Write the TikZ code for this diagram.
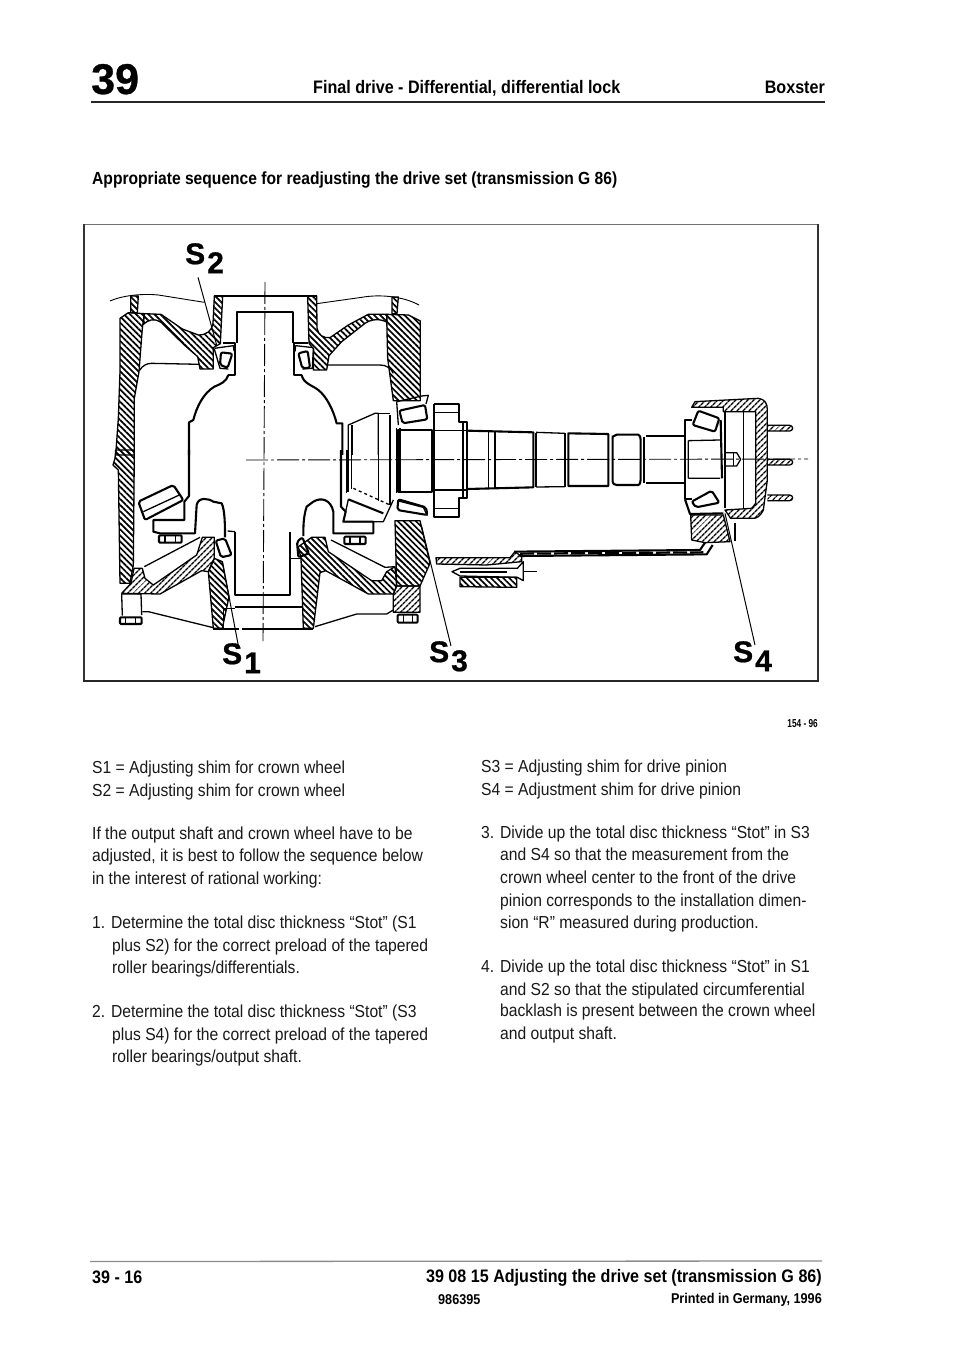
\documentclass[tikz,border=0pt]{standalone}
\usepackage{fontspec}
\setmainfont{Liberation Sans}
\newfontfamily\bodyf[FakeStretch=0.90]{Liberation Sans}
\newfontfamily\headf[FakeStretch=0.89,BoldFont={Liberation Sans Bold}]{Liberation Sans}
\newfontfamily\tinyf[FakeStretch=0.72,BoldFont={Liberation Sans Bold}]{Liberation Sans}
\newfontfamily\labf[FakeBold=0.7]{Liberation Sans Bold}
\usetikzlibrary{patterns.meta}
\tikzset{
  bodytxt/.style={anchor=base west,inner sep=0pt,font=\bodyf\fontsize{17.4}{20}\selectfont,text=black!90},
  headtxt/.style={anchor=base west,inner sep=0pt,font=\headf\bfseries\fontsize{18.1}{20}\selectfont},
  titletxt/.style={anchor=base west,inner sep=0pt,font=\headf\bfseries\fontsize{17.55}{20}\selectfont},
  foottxt/.style={anchor=base east,inner sep=0pt,font=\headf\bfseries\fontsize{18.1}{20}\selectfont},
  smalltxt/.style={anchor=base east,inner sep=0pt,font=\headf\bfseries\fontsize{14.2}{16}\selectfont},
  tinytxt/.style={anchor=base east,inner sep=0pt,font=\tinyf\bfseries\fontsize{11.5}{14}\selectfont},
  shimlab/.style={anchor=north west,inner sep=0pt,font=\labf\fontsize{30}{31}\selectfont},
  ln/.style={line width=1.3pt,line join=round},
  thk/.style={line width=2.1pt,line join=round},
  thn/.style={line width=.9pt,line join=round},
  hatcha/.style={draw,line width=1.3pt,line join=round,pattern={Lines[angle=-45,distance=4.3pt,line width=1.7pt]},pattern color=black},
  hatchb/.style={draw,line width=1.3pt,line join=round,pattern={Lines[angle=45,distance=4pt,line width=1.4pt]},pattern color=black},
  axis/.style={line width=.9pt,dash pattern=on 22pt off 3pt on 3pt off 3pt},
  leader/.style={line width=1pt},
  zoneA/.style={shift={(85,225)},x=.33333pt,y=-.33333pt},
  zoneB/.style={shift={(85,450)},x=.33333pt,y=-.33333pt},
  zoneC/.style={shift={(390,370)},x=.33333pt,y=-.33333pt}
}
\newcommand{\shimlabel}[1]{S\kern2pt\raisebox{-9pt}{#1}}
\begin{document}
\begin{tikzpicture}[x=1pt,y=-1pt]
\useasboundingbox (0,0) rectangle (960,1364);
\fill[white] (0,0) rectangle (960,1364);

% ----- header -----
\node[anchor=base west,inner sep=0pt,font=\labf\fontsize{43}{44}\selectfont] (chap) at (91,94) {39};
\node[headtxt] (ttl) at (313,94) {Final drive - Differential, differential lock};
\node[foottxt] (mdl) at (825,94) {Boxster};
\draw[line width=1.2pt,black!85] (91,102) -- (825,102);
\node[titletxt] (hd) at (92,185) {Appropriate sequence for readjusting the drive set (transmission G 86)};

% ----- figure frame -----
\draw[line width=.8pt,black!55] (84,224) -- (818,224);
\draw[line width=1.4pt,black!80] (84,224) -- (84,681);
\draw[line width=1.4pt,black!80] (818,224) -- (818,681);
\draw[line width=1.8pt,black!85] (83,681) -- (819,681);

% ----- upper part of the differential -----
\begin{scope}[zoneA]
  \draw[thn] (75,228) .. controls (110,212) and (170,205) .. (220,210) -- (358,232);
  \draw[thn] (695,236) -- (830,217) .. controls (880,208) and (950,212) .. (1002,240);
  % studs
  \draw[hatcha] (137,213) -- (160,213) -- (157,263) -- (137,263) -- cycle;
  \draw[hatcha] (921,216) -- (940,216) -- (936,266) -- (921,266) -- cycle;
  % left wall
  \draw[hatcha] (105,280) -- (130,263) -- (178,266) -- (172,310) -- (162,440) -- (148,520) -- (148,690) -- (92,690) -- (100,580) -- (105,440) -- cycle;
  % right wall
  \draw[hatcha] (905,268) -- (970,270) -- (1006,288) -- (1006,527) -- (925,527) -- (908,400) -- (906,320) -- cycle;
  % left web and hub
  \draw[hatcha] (178,266) -- (228,268) -- (292,312) -- (340,330) .. controls (365,330) and (380,318) .. (384,295) -- (388,213) -- (413,213) -- (406,356) -- (385,368) -- (385,432) -- (345,432) -- (338,395) -- (300,362) -- (228,292) .. controls (205,278) and (190,285) .. (175,298) -- cycle;
  % right web and hub
  \draw[hatcha] (668,213) -- (695,213) -- (696,310) .. controls (700,330) and (715,340) .. (735,338) -- (790,300) -- (850,268) -- (905,268) -- (906,292) .. controls (885,280) and (860,282) .. (840,295) -- (770,350) -- (732,392) -- (725,435) -- (685,435) -- (686,372) -- (672,355) -- cycle;
  % case ribs
  \draw[ln] (345,418) -- (200,415) .. controls (185,415) and (172,422) .. (164,436);
  \draw[ln] (728,420) -- (885,420) .. controls (905,420) and (918,430) .. (925,445);
  % centre carrier
  \draw[thk] (388,212) -- (695,212);
  \draw[thk] (455,355) -- (455,262) -- (625,262) -- (625,355);
  \draw[thk] (413,355) -- (450,355) -- (450,450) -- (430,450);
  \draw[thk] (670,355) -- (628,355) -- (628,450) -- (650,450);
  \draw[thk] (430,450) .. controls (425,470) and (405,478) .. (388,485) .. controls (355,505) and (335,545) .. (325,585) -- (312,592) -- (312,690);
  \draw[thk] (650,450) .. controls (655,475) and (680,480) .. (700,495) .. controls (725,515) and (745,555) .. (755,595) -- (772,595) -- (772,690);
  % side bearings
  \draw[thk,rounded corners=2pt] (408,382) -- (442,386) -- (428,428) -- (405,420) -- cycle;
  \draw[ln] (388,370) -- (445,362) -- (447,378);
  \draw[ln] (388,372) -- (405,430) -- (430,432);
  \draw[thk,rounded corners=2pt] (640,385) -- (668,378) -- (675,428) -- (652,430) -- cycle;
  \draw[ln] (685,368) -- (632,362) -- (630,380);
  \draw[ln] (685,372) -- (682,430) -- (652,432);
  % ring gear top
  \draw[ln] (790,690) -- (790,600) -- (870,565) -- (880,565) -- (880,690);
  \draw[thk] (800,600) -- (800,690);
  \draw[ln] (915,570) -- (915,690);
  \draw[ln] (870,565) -- (915,565);
  \draw[ln] (935,530) -- (940,600);
  \draw[ln] (935,610) -- (935,690);
  \draw[ln] (945,610) -- (945,690);
\end{scope}

% ----- lower part of the differential -----
\begin{scope}[zoneB]
  % left wall continued
  \draw[hatcha] (92,0) -- (148,0) -- (145,345) -- (135,400) -- (105,400) -- (100,60) -- (84,45) -- (90,25) -- cycle;
  % lower case left
  \draw[hatchb] (110,430) -- (138,400) -- (147,355) -- (172,355) -- (180,385) -- (205,405) -- (335,315) -- (352,262) -- (388,262) -- (388,325) -- (370,365) -- (350,362) -- (225,432) -- cycle;
  \draw[hatcha] (370,365) -- (388,325) -- (412,335) -- (432,440) -- (412,535) -- (385,535) -- cycle;
  \draw[ln] (178,350) -- (345,262);
  % lower case right
  \draw[hatcha] (648,325) -- (640,290) -- (680,262) -- (720,262) -- (730,305) -- (860,392) -- (890,392) -- (905,365) -- (930,350) -- (935,408) -- (925,432) -- (850,432) -- (722,362) -- (705,368) -- (685,535) -- (655,535) -- cycle;
  \draw[ln] (738,270) -- (900,352) -- (930,350);
  % right wall continued (lower)
  \draw[hatcha] (930,212) -- (1005,212) -- (1035,340) -- (1005,408) -- (935,408) -- cycle;
  \draw[hatchb] (935,408) -- (1005,408) -- (1005,487) -- (925,487) -- (925,432) -- cycle;
  % feet and bolts
  \draw[ln] (110,432) -- (168,432) -- (170,495);
  \draw[ln] (110,432) -- (112,497);
  \draw[thk,rounded corners=1pt] (105,502) rectangle (170,522);
  \draw[ln] (122,502) -- (122,522) (152,502) -- (152,522);
  \draw[thk,rounded corners=1pt] (938,494) rectangle (998,518);
  \draw[ln] (955,494) -- (955,518) (982,494) -- (982,518);
  % bottom profile
  \draw[ln] (172,485) -- (190,485) -- (385,533);
  \draw[ln] (690,530) -- (815,492) -- (905,492) -- (925,480);
  \draw[thk] (385,537) -- (462,537) (472,537) -- (685,537);
  \draw[thk] (450,470) -- (650,470);
  \draw[ln] (415,475) -- (450,475);
  \draw[ln] (415,475) -- (415,535);
  \draw[thk] (450,245) -- (450,435) -- (615,435) -- (615,245);
  \draw[ln] (428,243) -- (450,245);
  \draw[ln] (618,325) -- (648,325);
  % domes
  \draw[thk] (312,0) -- (312,138) -- (298,155) -- (298,210) -- (205,210) -- (205,245) -- (225,250) -- (330,250) -- (335,165) .. controls (340,140) and (370,145) .. (385,155) -- (410,160) .. controls (420,180) and (420,230) .. (420,262);
  \draw[thk] (768,0) -- (768,170) -- (782,185) -- (775,215) -- (865,215) -- (865,250) -- (745,250) -- (745,185) .. controls (738,150) and (710,140) .. (685,155) -- (665,170) .. controls (655,200) and (655,230) .. (655,258);
  % pinion gear left
  \draw[thk,rounded corners=2pt] (160,155) -- (265,105) -- (295,150) -- (180,210) -- cycle;
  \draw[ln] (175,185) -- (283,135);
  % small bolts
  \draw[thk,rounded corners=1pt] (222,256) rectangle (290,278);
  \draw[ln] (240,256) -- (240,278) (272,256) -- (272,278);
  \draw[thk,rounded corners=1pt] (778,260) rectangle (842,282);
  \draw[ln] (795,260) -- (795,282) (825,260) -- (825,282);
  % side bearings lower
  \draw[thk,rounded corners=2pt] (392,272) -- (420,265) -- (440,315) -- (408,322) -- cycle;
  \draw[thk,rounded corners=2pt] (636,275) -- (652,262) -- (672,310) -- (640,322) -- cycle;
  % ring gear lower
  \draw[ln] (785,0) -- (785,130) (800,0) -- (800,118);
  \draw[thk] (790,0) -- (790,125);
  \draw[ln] (880,0) -- (880,152) (915,0) -- (915,165) (935,0) -- (935,130) (945,0) -- (945,122);
  \draw[thk] (790,148) -- (895,190);
  \draw[ln,dashed] (805,115) -- (915,165);
  \draw[ln] (782,185) -- (790,148);
  \draw[ln] (775,215) -- (895,215) -- (925,150);
\end{scope}

% ----- pinion shaft and cover -----
\begin{scope}[zoneC]
  % left pinion bearings
  \draw[thk,rounded corners=2pt] (28,122) -- (105,105) -- (112,148) -- (38,160) -- cycle;
  \draw[ln] (20,95) -- (95,78) -- (115,76) -- (108,102);
  \draw[ln] (22,392) -- (100,412) -- (112,437);
  \draw[thk,rounded corners=2pt] (25,388) -- (108,412) -- (112,435) -- (22,420) -- cycle;
  % shaft segments
  \draw[thk] (25,180) -- (125,180) -- (125,365) -- (25,365) -- cycle;
  \draw[ln] (32,180) -- (32,365);
  \draw[thk] (132,102) -- (208,102) -- (208,155) -- (232,155) -- (232,385) -- (208,385) -- (208,440) -- (132,440) -- (132,102);
  \draw[ln] (132,128) -- (208,128) (132,415) -- (208,415) (132,182) -- (228,182) (132,360) -- (228,360);
  \draw[thk] (220,160) -- (220,380);
  \draw[thk] (232,182) -- (430,187) -- (430,352) -- (232,357);
  \draw[ln] (295,183) -- (295,357);
  \draw[thk] (316,183) -- (316,357);
  \draw[ln] (438,188) -- (438,351);
  \draw[ln] (438,187) -- (525,190);
  \draw[ln] (438,351) -- (525,350);
  \draw[thk] (525,190) -- (525,350);
  \draw[thk] (535,190) -- (655,192) -- (655,348) -- (535,348) -- cycle;
  \draw[thk] (668,200) .. controls (672,195) and (675,195) .. (680,194) -- (745,194) .. controls (750,198) and (752,200) .. (752,210) -- (752,330) .. controls (750,342) and (748,345) .. (745,345) -- (680,345) .. controls (672,345) and (668,340) .. (668,335) -- cycle;
  \draw[ln] (762,200) -- (762,340);
  \draw[thk] (768,198) -- (885,198) (768,340) -- (885,340);
  % rear cone
  \draw[thk] (905,150) -- (885,150) -- (885,388) -- (905,388);
  \draw[ln] (895,212) -- (990,210) (895,325) -- (990,325) (895,212) -- (895,325);
  \draw[thk] (992,150) -- (996,325);
  \draw[thk,rounded corners=2pt] (908,165) -- (925,122) -- (988,145) -- (975,185) -- cycle;
  \draw[thk,rounded corners=2pt] (905,395) -- (965,362) -- (988,398) -- (918,412) -- cycle;
  \draw[thk] (885,388) -- (900,432) -- (1000,430);
  % cover
  \draw[hatchb] (905,112) -- (915,95) -- (1105,85) .. controls (1125,88) and (1132,100) .. (1132,120) -- (1132,330) -- (1120,420) .. controls (1110,440) and (1100,445) .. (1090,445) -- (1022,445) -- (1005,420) -- (1085,415) -- (1097,400) -- (1097,125) -- (1000,125) -- (1000,112) -- cycle;
  \draw[ln] (1005,125) -- (1005,415) (1060,125) -- (1060,415);
  % cover pins
  \draw[hatchb,rounded corners=3pt] (1132,166) -- (1208,166) -- (1208,183) -- (1132,183);
  \draw[hatchb,rounded corners=3pt] (1132,268) -- (1208,268) -- (1208,285) -- (1132,285);
  \draw[hatchb,rounded corners=3pt] (1132,375) -- (1208,375) -- (1208,392) -- (1132,392);
  % centre bolt
  \draw[ln] (1005,248) -- (1040,248) -- (1052,268) -- (1040,288) -- (1005,288);
  \draw[ln] (1030,248) -- (1030,288);
  % carrier block
  \draw[hatchb] (902,435) -- (1000,435) -- (1020,515) -- (945,518) -- (905,510) -- cycle;
  \draw[ln] (1035,460) -- (1035,512);
  % thin sheet housing
  \draw[thk] (372,545) -- (930,540) -- (945,518);
  \draw[thk] (388,558) -- (950,553) -- (968,525);
  \draw[line width=2.2pt,dash pattern=on 14pt off 3pt] (390,551) -- (940,547);
  % bolted flange
  \draw[hatchb] (138,563) -- (360,563) -- (375,545) -- (395,560) -- (395,575) -- (290,585) -- (140,582) -- cycle;
  \draw[ln,fill=white] (186,605) -- (210,595) -- (382,595) -- (400,575) -- (400,632) -- (382,622) -- (210,618) -- cycle;
  \draw[thk] (210,606) -- (350,606);
  \draw[hatcha] (210,622) -- (380,622) -- (380,652) -- (210,650) -- cycle;
  \draw[thn] (400,603) -- (440,603);
\end{scope}

% ----- centre lines -----
\draw[axis] (265,282) -- (263,641);
\draw[axis] (246,460) -- (808,459);

% ----- shim leaders -----
\begin{scope}[zoneA]\coordinate (shimtwo) at (395,360);\end{scope}
\begin{scope}[zoneB]\coordinate (shimone) at (412,335);\end{scope}
\begin{scope}[zoneC]\coordinate (shimthree) at (95,470);\coordinate (shimfour) at (1005,430);\end{scope}
\node[shimlab] (stwo) at (185,243) {\shimlabel{2}};
\node[shimlab] (sone) at (222,643) {\shimlabel{1}};
\node[shimlab] (sthree) at (429,641) {\shimlabel{3}};
\node[shimlab] (sfour) at (733,641) {\shimlabel{4}};
\draw[leader] ([xshift=13pt,yshift=-4pt]stwo.south west) -- (shimtwo);
\draw[leader] ([xshift=17pt,yshift=-6pt]sone.north west) -- (shimone);
\draw[leader] ([xshift=22pt,yshift=-5pt]sthree.north west) -- (shimthree);
\draw[leader] ([xshift=22pt,yshift=-4pt]sfour.north west) -- (shimfour);

\node[tinytxt] (fig) at (818,727) {154 - 96};

% ----- left column -----
\node[bodytxt] (a1) at (92,773.5) {S1 = Adjusting shim for crown wheel};
\node[bodytxt] (a2) at (92,796.5) {S2 = Adjusting shim for crown wheel};
\node[bodytxt] (a3) at (92,839) {If the output shaft and crown wheel have to be};
\node[bodytxt] (a4) at (92,861.5) {adjusted, it is best to follow the sequence below};
\node[bodytxt] (a5) at (92,884) {in the interest of rational working:};
\node[bodytxt] (a6) at (92,928.5) {1. Determine the total disc thickness “Stot” (S1};
\node[bodytxt] (a7) at (112,951) {plus S2) for the correct preload of the tapered};
\node[bodytxt] (a8) at (112,973) {roller bearings/differentials.};
\node[bodytxt] (a9) at (92,1017) {2. Determine the total disc thickness “Stot” (S3};
\node[bodytxt] (a10) at (112,1040) {plus S4) for the correct preload of the tapered};
\node[bodytxt] (a11) at (112,1062) {roller bearings/output shaft.};
% ----- right column -----
\node[bodytxt] (b1) at (481,772.7) {S3 = Adjusting shim for drive pinion};
\node[bodytxt] (b2) at (481,795) {S4 = Adjustment shim for drive pinion};
\node[bodytxt] (b3) at (481,838) {3. Divide up the total disc thickness “Stot” in S3};
\node[bodytxt] (b4) at (500,860.7) {and S4 so that the measurement from the};
\node[bodytxt] (b5) at (500,883) {crown wheel center to the front of the drive};
\node[bodytxt] (b6) at (500,906) {pinion corresponds to the installation dimen-};
\node[bodytxt] (b7) at (500,928) {sion “R” measured during production.};
\node[bodytxt] (b8) at (481,972.7) {4. Divide up the total disc thickness “Stot” in S1};
\node[bodytxt] (b9) at (500,995) {and S2 so that the stipulated circumferential};
\node[bodytxt] (b10) at (500,1016.7) {backlash is present between the crown wheel};
\node[bodytxt] (b11) at (500,1039) {and output shaft.};

% ----- footer -----
\draw[line width=1.3pt,black!45] (90,1261.5) -- (822,1261);
\node[headtxt] (pg) at (92,1283) {39 - 16};
\node[foottxt] (sec) at (822,1282) {39 08 15 Adjusting the drive set (transmission G 86)};
\node[smalltxt,anchor=base west] (num) at (438,1304) {986395};
\node[smalltxt] (prt) at (822,1303) {Printed in Germany, 1996};
\end{tikzpicture}
\end{document}
